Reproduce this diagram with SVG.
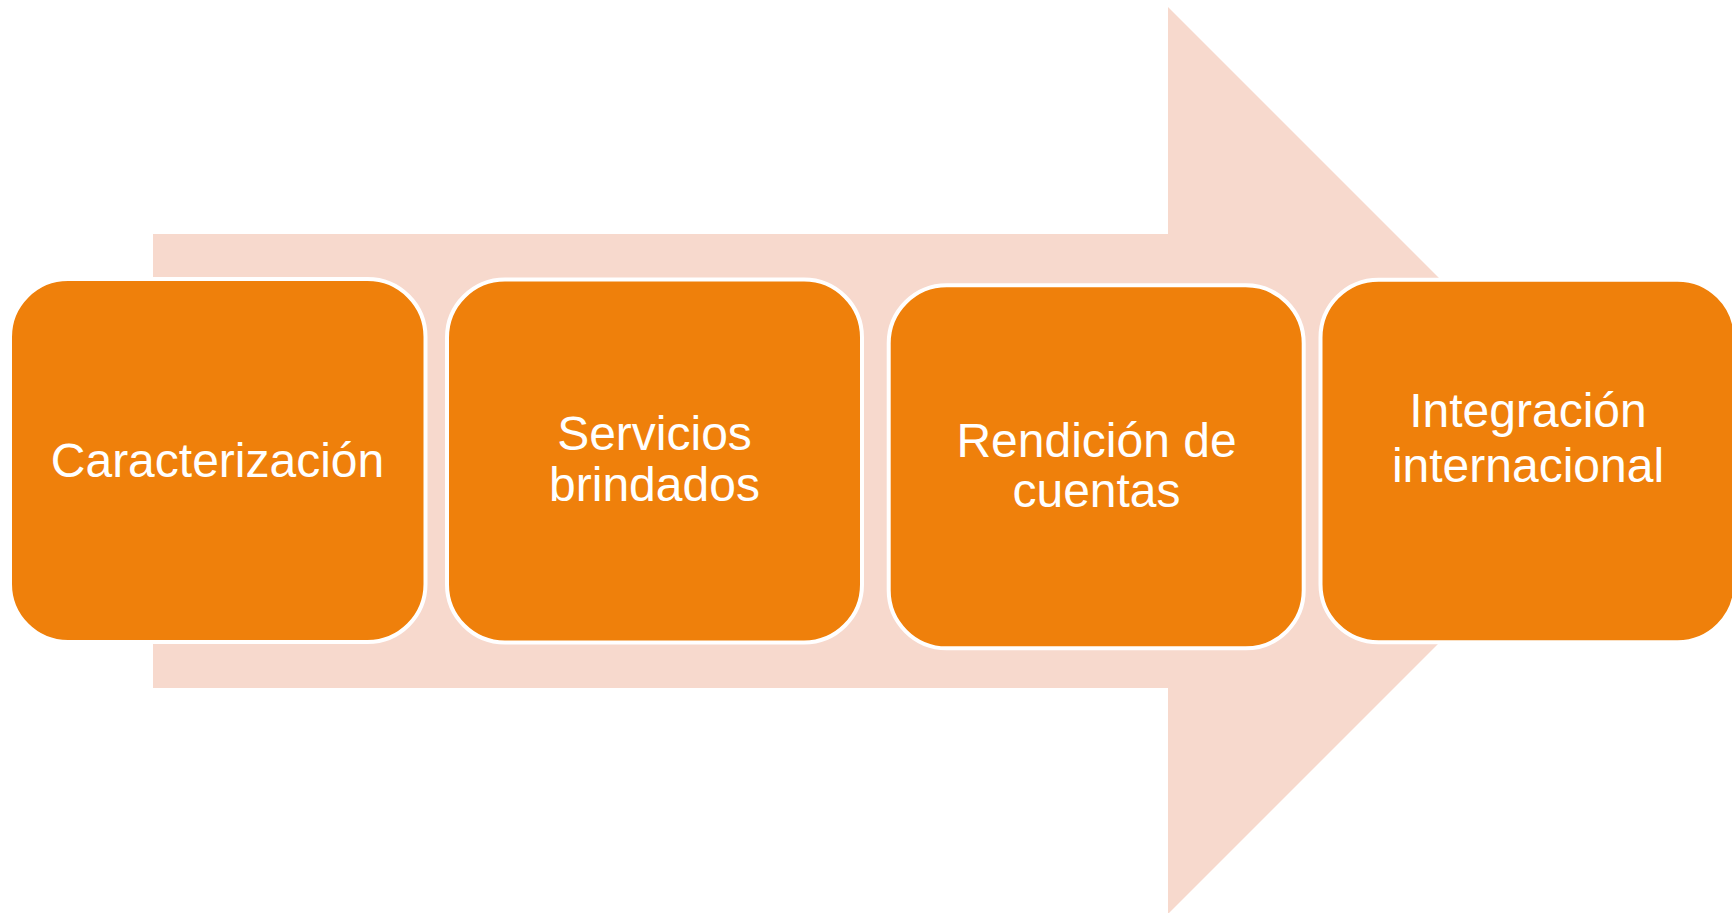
<svg xmlns="http://www.w3.org/2000/svg" width="1732" height="913" viewBox="0 0 1732 913">
<style>
.box{fill:#EF800B;stroke:#FFFFFF;stroke-width:4}
.lbl{font-family:"Liberation Sans",Arial,sans-serif;font-size:48px;fill:#FFFFFF;text-anchor:middle}
</style>
<rect width="1732" height="913" fill="#FFFFFF"/>
<g id="arrow">
<polygon points="153,234 1168,234 1168,7 1621.5,460.5 1168,914 1168,688 153,688" fill="#F7D9CD"/>
</g>
<g id="connectors"></g>
<g id="node1">
<rect class="box" x="10" y="279" width="415.5" height="363" rx="58" ry="58"/>
<text class="lbl" x="217.5" y="477">Caracterización</text>
</g>
<g id="node2">
<rect class="box" x="447" y="279.5" width="415" height="363" rx="58" ry="58"/>
<text class="lbl" x="654.5" y="450">Servicios</text>
<text class="lbl" x="654.5" y="501">brindados</text>
</g>
<g id="node3">
<rect class="box" x="888.7" y="285.3" width="415" height="363" rx="58" ry="58"/>
<text class="lbl" x="1096.5" y="457">Rendición de</text>
<text class="lbl" x="1096.5" y="507">cuentas</text>
</g>
<g id="node4">
<rect class="box" x="1320.5" y="279.7" width="415" height="362.5" rx="58" ry="58"/>
<text class="lbl" x="1528" y="427">Integración</text>
<text class="lbl" x="1528" y="482">internacional</text>
</g>
</svg>
